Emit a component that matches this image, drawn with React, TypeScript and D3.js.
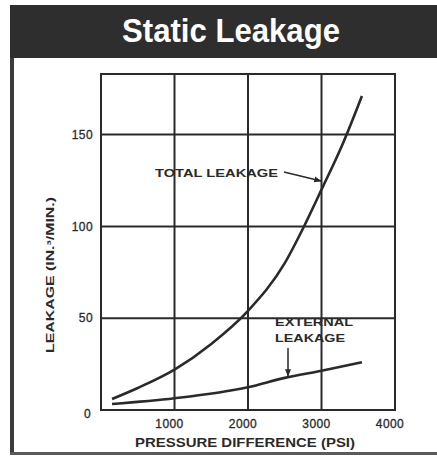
import React from "react";
import * as d3 from "d3";

const title = "Static Leakage";
const xTicks = [1000, 2000, 3000, 4000];
const yTicks = [0, 50, 100, 150];
const totalLeakage: [number, number][] = [
  [150, 6], [500, 12], [1000, 22], [1500, 36], [2000, 54], [2500, 80],
  [2750, 99], [3000, 120], [3300, 146], [3550, 171],
];
const externalLeakage: [number, number][] = [
  [150, 3.3], [1000, 6.4], [2000, 12.4], [2500, 17.5], [3000, 21.4], [3550, 26],
];
const xAxisTitle = "PRESSURE DIFFERENCE (PSI)";
const yAxisTitle = "LEAKAGE (IN.³/MIN.)";
const totalLabel = "TOTAL LEAKAGE";
const externalLabel = ["EXTERNAL", "LEAKAGE"];

const W = 437, H = 456;
const FONT = "'Liberation Sans', Arial, sans-serif";

export default function App() {
  const x = d3.scaleLinear().domain([0, 4000]).range([101, 395]);
  const y = d3.scaleLinear().domain([0, 183]).range([410, 74]);
  const line = d3.line<[number, number]>()
    .x(d => x(d[0])).y(d => y(d[1])).curve(d3.curveMonotoneX);
  const ink = "#2a2a2a";
  const [x0, x1] = x.range();
  const [y0, y1] = y.range();
  return (
    <svg width={W} height={H} style={{ position: "absolute", left: 0, top: 0, background: "#fff" }}>
      <defs>
        <marker id="ah" viewBox="0 0 10 10" refX="9" refY="5" markerWidth="5" markerHeight="5" orient="auto">
          <path d="M0,1 L10,5 L0,9 z" fill={ink} />
        </marker>
      </defs>
      {/* frame */}
      <rect x={10} y={5} width={W - 10} height={53} fill="#2e2e2e" />
      <rect x={10} y={58} width={4} height={396} fill="#3a3a3a" />
      <rect x={10} y={452} width={W - 10} height={3} fill="#5a5a5a" />
      <text x={231} y={42} fill="#fff" fontFamily={FONT} fontWeight="bold" fontSize={34}
        textAnchor="middle" textLength={218} lengthAdjust="spacingAndGlyphs">{title}</text>

      {/* grid */}
      {xTicks.filter(t => t < 4000).map(t => (
        <line key={"vx" + t} x1={x(t)} x2={x(t)} y1={y1} y2={y0} stroke={ink} strokeWidth={2} />
      ))}
      {yTicks.filter(t => t > 0).map(t => (
        <line key={"hy" + t} x1={x0} x2={x1} y1={y(t)} y2={y(t)} stroke={ink} strokeWidth={2} />
      ))}
      <rect x={x0} y={y1} width={x1 - x0} height={y0 - y1} fill="none" stroke={ink} strokeWidth={2} />

      {/* curves */}
      <path d={line(totalLeakage) || ""} fill="none" stroke={ink} strokeWidth={2.6} />
      <path d={line(externalLeakage) || ""} fill="none" stroke={ink} strokeWidth={2.6} />

      {/* tick labels */}
      {xTicks.map(t => (
        <text key={"xl" + t} x={x(t) - 5} y={428} textAnchor="middle" fontFamily={FONT}
          fontSize={12} fill={ink} stroke={ink} strokeWidth={0.3} letterSpacing={0.4}>{t}</text>
      ))}
      {yTicks.map(t => (
        <text key={"yl" + t} x={t === 0 ? 91 : 93} y={y(t) + (t === 0 ? 4 : 0)} dy="0.35em"
          textAnchor="end" fontFamily={FONT} fontSize={12} fill={ink} stroke={ink} strokeWidth={0.3}
          letterSpacing={0.4}>{t}</text>
      ))}

      {/* axis titles */}
      <text x={245} y={447} textAnchor="middle" fontFamily={FONT} fontWeight="bold" fontSize={12}
        fill={ink} textLength={220} lengthAdjust="spacingAndGlyphs">{xAxisTitle}</text>
      <text transform="translate(54,275) rotate(-90)" textAnchor="middle" fontFamily={FONT}
        fontWeight="bold" fontSize={10} fill={ink} textLength={156} lengthAdjust="spacingAndGlyphs">{yAxisTitle}</text>

      {/* annotations */}
      <text x={155} y={177} fontFamily={FONT} fontWeight="bold" fontSize={11} fill={ink}
        textLength={123} lengthAdjust="spacingAndGlyphs">{totalLabel}</text>
      <line x1={284} y1={172} x2={321} y2={181} stroke={ink} strokeWidth={1.5} markerEnd="url(#ah)" />
      <text x={275} y={326} fontFamily={FONT} fontWeight="bold" fontSize={11} fill={ink}
        textLength={78} lengthAdjust="spacingAndGlyphs">{externalLabel[0]}</text>
      <text x={275} y={342} fontFamily={FONT} fontWeight="bold" fontSize={11} fill={ink}
        textLength={70} lengthAdjust="spacingAndGlyphs">{externalLabel[1]}</text>
      <line x1={288} y1={348} x2={288} y2={376} stroke={ink} strokeWidth={1.5} markerEnd="url(#ah)" />
    </svg>
  );
}
